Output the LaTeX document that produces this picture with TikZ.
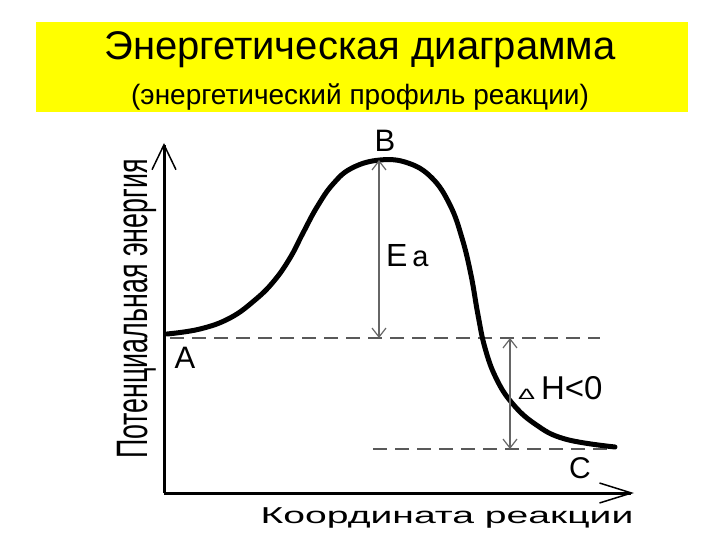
\documentclass[tikz,border=0pt]{standalone}
\usepackage{fontspec}
\setmainfont{Liberation Sans}
\usetikzlibrary{arrows.meta}
\newlength{\du}
\setlength{\du}{1pt}

\begin{document}
\begin{tikzpicture}[even odd rule]
\pgftransformxscale{1.000000}
\pgftransformyscale{-1.000000}
\useasboundingbox (0\du,0\du) rectangle (720\du,540\du);
\definecolor{dialinecolor}{rgb}{0.000000, 0.000000, 0.000000}
\definecolor{diafillcolor}{rgb}{1.000000, 1.000000, 0.000000}
\definecolor{diadashcolor}{rgb}{0.350000, 0.350000, 0.350000}
\definecolor{diaarrowcolor}{rgb}{0.400000, 0.400000, 0.400000}
\tikzset{
  dialabel/.style={anchor=base,inner sep=0pt,outer sep=0pt,color=dialinecolor},
  diadash/.style={color=diadashcolor,line width=2\du,dash pattern=on 14\du off 8\du},
  diagap/.style={color=diaarrowcolor,line width=2\du,
    {Straight Barb[length=9pt,width=14pt,line width=1.2pt]}-{Straight Barb[length=9pt,width=14pt,line width=1.2pt]}}
}
% yellow header
\fill[diafillcolor] (36\du,22\du) rectangle (688\du,112\du);
\node[dialabel,font=\fontsize{40}{40}\selectfont] (title) at (360\du,60\du){Энергетическая диаграмма};
\node[dialabel,font=\fontsize{28}{28}\selectfont] (subtitle) at (360\du,105\du){(энергетический профиль реакции)};
% axes
\coordinate (O) at (164\du,493\du);
\coordinate (ytip) at (164\du,143\du);
\coordinate (xtip) at (634\du,493\du);
\pgfsetlinewidth{3.000000\du}
\draw[-{Straight Barb[length=25pt,width=24pt,line width=1.5pt]}] (O) -- (ytip);
\draw[-{Straight Barb[length=32pt,width=20pt,line width=1.5pt]}] (O) -- (xtip);
% levels
\coordinate (dlA) at (170\du,338\du);
\coordinate (drA) at (600\du,338\du);
\coordinate (dlC) at (373\du,449\du);
\coordinate (drC) at (615\du,449\du);
\draw[diadash] (dlA) -- (drA);
\draw[diadash] (dlC) -- (drC);
% energy profile
\draw[line width=5\du,line cap=round] plot[smooth,tension=0.7] coordinates {
(167\du,334\du) (200\du,329\du) (230\du,318\du) (255\du,300\du) (274\du,281\du)
(290\du,258\du) (303\du,233\du) (317\du,207\du) (333\du,184\du) (352\du,168\du)
(380\du,160\du) (408\du,163\du) (432\du,178\du) (450\du,205\du) (462\du,238\du)
(471\du,275\du) (478\du,315\du) (485\du,348\du) (496\du,378\du) (512\du,403\du)
(535\du,424\du) (565\du,439\du) (615\du,447\du)};
% Ea and dH
\coordinate (peak) at (379\du,160\du);
\coordinate (eafoot) at (379\du,338\du);
\coordinate (dhtop) at (510\du,338\du);
\coordinate (dhbot) at (510\du,449\du);
\draw[diagap] (eafoot) -- (peak);
\draw[diagap] (dhbot) -- (dhtop);
% labels
\node[dialabel,font=\fontsize{31}{31}\selectfont] (lblA) at (185\du,368\du){A};
\node[dialabel,font=\fontsize{31}{31}\selectfont] (lblB) at (385\du,152\du){B};
\node[dialabel,font=\fontsize{30}{30}\selectfont] (lblC) at (580\du,478\du){C};
\node[dialabel,anchor=base west,font=\fontsize{32}{32}\selectfont] (lblEa) at (386\du,266\du){E\hspace{5\du}{\fontsize{29}{29}\selectfont a}};
\node[dialabel,anchor=base west,font=\fontsize{33}{33}\selectfont] (lblDH) at (518\du,399\du){\scalebox{1.7}[1]{\fontsize{15}{15}\selectfont Δ}\hspace{6\du}H<0};
\node[dialabel,font=\fontsize{23}{23}\selectfont,xscale=1.7] (xlabel) at (447\du,523\du){Координата реакции};
\node[dialabel,rotate=90,font=\fontsize{44}{44}\selectfont,xscale=0.61] (ylabel) at (147\du,309\du){Потенциальная энергия};
\end{tikzpicture}
\end{document}
